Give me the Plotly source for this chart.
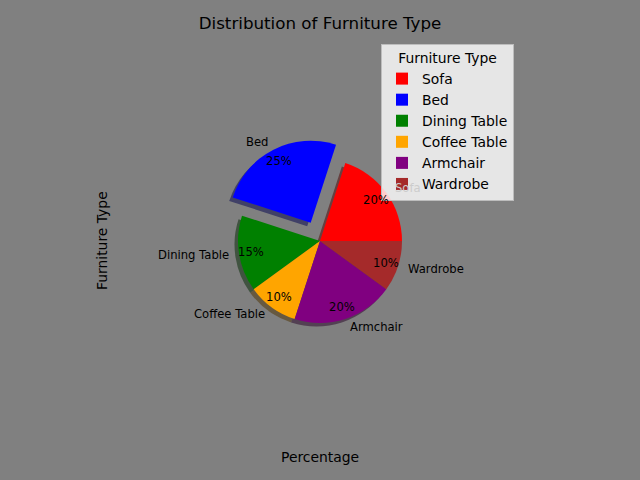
import math
import plotly.graph_objects as go

# ---- data ----
categories = ["Sofa", "Bed", "Dining Table", "Coffee Table", "Armchair", "Wardrobe"]
percentages = [20, 25, 15, 10, 20, 10]
explode = [0, 0.25, 0, 0, 0, 0]
colors = ["#ff0000", "#0000ff", "#008000", "#ffa500", "#800080", "#a52a2a"]
shadow_colors = ["rgba(77,0,0,0.5)", "rgba(0,0,77,0.5)", "rgba(0,38,0,0.5)",
                 "rgba(77,50,0,0.5)", "rgba(38,0,38,0.5)", "rgba(50,13,13,0.5)"]
# the "Sofa" label sits under the semi-transparent legend box in the original
label_colors = ["#cccccc", "black", "black", "black", "black", "black"]
title_text = "Distribution of Furniture Type"
xlabel = "Percentage"
ylabel = "Furniture Type"
legend_title = "Furniture Type"

# ---- layout constants (pixels) ----
W, H = 640, 480
CX, CY = 320, 241
R = 82
SDX, SDY = -3.5, 3.5
FONT = "DejaVu Sans"
SMALL = 11.6
MED = 13.9
BIG = 16.7

total = sum(percentages)
maxpull = max(explode)


def domain(cx, cy):
    half = R * (1 + maxpull)
    return dict(x=[(cx - half) / W, (cx + half) / W],
                y=[1 - (cy + half) / H, 1 - (cy - half) / H])


rotation = 90 - 360 * percentages[0] / total

fig = go.Figure()
fig.add_trace(go.Pie(
    labels=categories, values=percentages, sort=False, direction="counterclockwise",
    rotation=rotation, pull=explode, marker=dict(colors=shadow_colors, line=dict(width=0)),
    textinfo="none", hoverinfo="skip", showlegend=False, domain=domain(CX + SDX, CY + SDY),
))
fig.add_trace(go.Pie(
    labels=categories, values=percentages, sort=False, direction="counterclockwise",
    rotation=rotation, pull=explode, marker=dict(colors=colors, line=dict(width=0)),
    textinfo="none", domain=domain(CX, CY),
))

annotations = []
start = 0.0
for cat, v, ex, lc in zip(categories, percentages, explode, label_colors):
    span = 360.0 * v / total
    mid = math.radians(start + span / 2)
    start += span
    ox = ex * R * math.cos(mid)
    oy = ex * R * math.sin(mid)
    lx = CX + ox + 1.1 * R * math.cos(mid)
    ly = CY - oy - 1.1 * R * math.sin(mid)
    px = CX + ox + 0.85 * R * math.cos(mid)
    py = CY - oy - 0.85 * R * math.sin(mid)
    annotations.append(dict(
        x=lx / W, y=1 - ly / H, xref="paper", yref="paper", text=cat, showarrow=False,
        xanchor="left" if math.cos(mid) > 0 else "right", yanchor="middle",
        font=dict(family=FONT, size=SMALL, color=lc)))
    annotations.append(dict(
        x=px / W, y=1 - py / H, xref="paper", yref="paper", text=f"{v / total * 100:.0f}%",
        showarrow=False, xanchor="center", yanchor="middle",
        font=dict(family=FONT, size=SMALL, color="black")))

annotations.append(dict(x=CX / W, y=1 - 457 / H, xref="paper", yref="paper", text=xlabel,
                        showarrow=False, xanchor="center", yanchor="middle",
                        font=dict(family=FONT, size=MED, color="black")))
annotations.append(dict(x=102 / W, y=1 - CY / H, xref="paper", yref="paper", text=ylabel,
                        showarrow=False, xanchor="center", yanchor="middle", textangle=-90,
                        font=dict(family=FONT, size=MED, color="black")))

fig.update_layout(
    width=W, height=H, margin=dict(l=0, r=0, t=0, b=0),
    paper_bgcolor="#808080", plot_bgcolor="#808080",
    title=dict(text=title_text, x=0.5, xanchor="center", y=1 - 23 / H, yanchor="middle",
               font=dict(family=FONT, size=BIG, color="black")),
    legend=dict(title=dict(text=legend_title, side="top center",
                           font=dict(family=FONT, size=MED, color="black")),
                x=381 / W, y=1 - 44 / H, xanchor="left", yanchor="top",
                bgcolor="rgba(255,255,255,0.8)", bordercolor="#bdbdbd", borderwidth=1,
                font=dict(family=FONT, size=MED, color="black"), traceorder="normal"),
    annotations=annotations,
    font=dict(family=FONT),
)

fig.write_html(
    "out.html",
    config={"displayModeBar": False},
    post_script="document.body.style.margin='0';document.body.style.padding='0';"
                "document.body.style.overflow='hidden';document.body.style.background='#808080';",
)
